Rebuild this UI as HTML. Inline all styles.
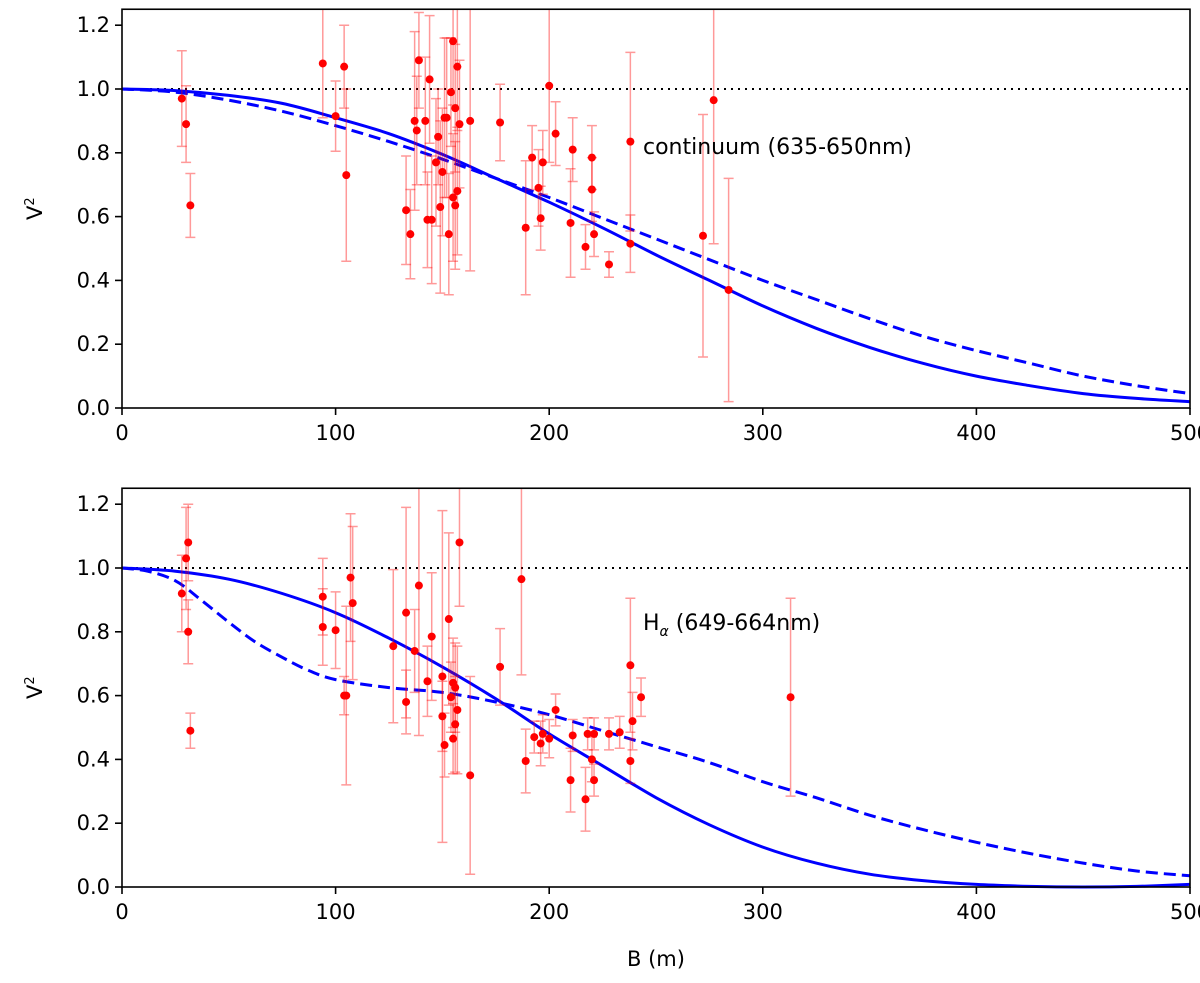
<!DOCTYPE html>
<html><head><meta charset="utf-8"><style>
body{margin:0;background:#fff;}
svg{display:block;font-family:"DejaVu Sans","Liberation Sans",sans-serif;}
</style></head><body>
<svg id="fig" width="1200" height="983" viewBox="0 0 1200 983"></svg>
<script>
const NS="http://www.w3.org/2000/svg";
// Top panel data: baseline (m), V2, error
const topB=[28,30,32,94,100,104,105,133,135,137,138,139,142,143,144,145,147,148,149,150,151,152,153,154,155,155,156,156,157,157,158,163,177,189,192,195,196,197,200,203,210,211,217,220,220,221,228,238,238,272,277,284];
const topV=[0.97,0.89,0.635,1.08,0.915,1.07,0.73,0.62,0.545,0.90,0.87,1.09,0.90,0.59,1.03,0.59,0.77,0.85,0.63,0.74,0.91,0.91,0.545,0.99,1.15,0.66,0.635,0.94,1.07,0.68,0.89,0.90,0.895,0.565,0.785,0.69,0.595,0.77,1.01,0.86,0.58,0.81,0.505,0.685,0.785,0.545,0.45,0.515,0.835,0.54,0.965,0.37];
const topE=[0.15,0.12,0.1,0.17,0.11,0.13,0.27,0.17,0.14,0.28,0.17,0.15,0.2,0.15,0.2,0.2,0.2,0.15,0.27,0.2,0.25,0.25,0.19,0.17,0.2,0.2,0.2,0.2,0.2,0.2,0.2,0.47,0.12,0.21,0.1,0.12,0.1,0.1,0.24,0.1,0.17,0.1,0.07,0.1,0.1,0.07,0.04,0.09,0.28,0.38,0.45,0.35];
// Bottom panel data
const botB=[28,30,31,31,32,94,94,100,104,105,107,108,127,133,133,137,139,143,145,150,150,151,153,154,155,155,156,156,157,158,163,177,187,189,193,196,197,200,203,210,211,217,218,220,221,221,228,233,238,238,239,243,313];
const botV=[0.92,1.03,1.08,0.80,0.49,0.91,0.815,0.805,0.60,0.60,0.97,0.89,0.755,0.86,0.58,0.74,0.945,0.645,0.785,0.535,0.66,0.445,0.84,0.595,0.64,0.465,0.625,0.51,0.555,1.08,0.35,0.69,0.965,0.395,0.47,0.45,0.48,0.465,0.555,0.335,0.475,0.275,0.48,0.40,0.335,0.48,0.48,0.485,0.395,0.695,0.52,0.595,0.595];
const botE=[0.12,0.16,0.12,0.1,0.055,0.12,0.12,0.12,0.06,0.28,0.2,0.24,0.24,0.33,0.1,0.13,0.47,0.11,0.2,0.11,0.52,0.1,0.27,0.11,0.14,0.11,0.14,0.15,0.2,0.2,0.31,0.12,0.3,0.1,0.05,0.07,0.06,0.06,0.05,0.1,0.05,0.1,0.05,0.07,0.05,0.05,0.05,0.05,0.07,0.21,0.09,0.06,0.31];
// Model curves
const curveB=[0,25,50,75,100,125,150,175,200,225,250,275,300,325,350,375,400,425,450,475,500];
const topSolid=[1,0.995,0.98,0.955,0.91,0.86,0.795,0.72,0.645,0.565,0.48,0.40,0.32,0.25,0.19,0.14,0.10,0.07,0.045,0.03,0.02];
const topDash=[1,0.99,0.965,0.93,0.885,0.835,0.78,0.72,0.66,0.595,0.53,0.465,0.40,0.34,0.28,0.225,0.18,0.14,0.10,0.07,0.045];
const botSolid=[1,0.99,0.965,0.92,0.86,0.78,0.69,0.59,0.48,0.38,0.28,0.195,0.125,0.075,0.04,0.02,0.008,0.002,0,0.002,0.008];
const botDashB=[0,12,25,37,50,62,75,87,100,125,150,175,200,225,250,275,300,325,350,375,400,425,450,475,500];
const botDash=[1,0.99,0.96,0.9,0.83,0.77,0.72,0.68,0.65,0.625,0.61,0.58,0.54,0.49,0.44,0.39,0.33,0.28,0.225,0.18,0.14,0.105,0.075,0.05,0.035];
const xTicks=[0,100,200,300,400,500];
const yTicks=[0.0,0.2,0.4,0.6,0.8,1.0,1.2];

const svg=document.getElementById('fig');
function mk(t,a,p){const e=document.createElementNS(NS,t);for(const k in a)e.setAttribute(k,a[k]);(p||svg).appendChild(e);return e;}
const L=122,R=1190;
const xs=b=>L+(b/500)*(R-L);
function smooth(pts){
  let d='M'+pts[0][0].toFixed(1)+','+pts[0][1].toFixed(1);
  for(let i=0;i<pts.length-1;i++){
    const p0=pts[Math.max(0,i-1)],p1=pts[i],p2=pts[i+1],p3=pts[Math.min(pts.length-1,i+2)];
    const c1=[p1[0]+(p2[0]-p0[0])/6,p1[1]+(p2[1]-p0[1])/6],c2=[p2[0]-(p3[0]-p1[0])/6,p2[1]-(p3[1]-p1[1])/6];
    d+=`C${c1[0].toFixed(1)},${c1[1].toFixed(1)} ${c2[0].toFixed(1)},${c2[1].toFixed(1)} ${p2[0].toFixed(1)},${p2[1].toFixed(1)}`;
  }
  return d;
}
function panel(name,y0,B,V,E,solidB,solid,dashB,dash,label,sub){
  const g=mk('g',{});
  
  
  const ys=v=>y0-v*319;
  const top=ys(1.25);
  const dl=mk('line',{x1:L,x2:R,y1:ys(1),y2:ys(1),stroke:'#000','stroke-width':2,'stroke-dasharray':'2,5'},g);
  
  
  const pth=(bb,vv)=>smooth(bb.map((b,i)=>[xs(b),ys(vv[i])]));
  const cs=mk('path',{d:pth(solidB,solid),fill:'none',stroke:'#0000ff','stroke-width':3},g);
  
  
  const cd=mk('path',{d:pth(dashB,dash),fill:'none',stroke:'#0000ff','stroke-width':3,'stroke-dasharray':'12,6'},g);
  
  
  const clip='c'+name;
  const cp=mk('clipPath',{id:clip},g);mk('rect',{x:L,y:top,width:R-L,height:y0-top},cp);
  const dg=mk('g',{'clip-path':'url(#'+clip+')'},g);
  B.forEach((b,i)=>{
    const x=xs(b),y1=ys(V[i]-E[i]),y2=ys(V[i]+E[i]);
    const eb=mk('path',{d:`M${x},${y1}L${x},${y2}M${x-5},${y1}L${x+5},${y1}M${x-5},${y2}L${x+5},${y2}`,stroke:'rgba(255,0,0,0.4)','stroke-width':1.5,fill:'none'},dg);
    
    
    const c=mk('circle',{cx:x,cy:ys(V[i]),r:4,fill:'#ff0000'},dg);
    
    
  });
  const fr=mk('rect',{x:L,y:top,width:R-L,height:y0-top,fill:'none',stroke:'#000','stroke-width':1.6},g);
  
  
  xTicks.forEach(t=>{
    mk('line',{x1:xs(t),x2:xs(t),y1:y0,y2:y0+7,stroke:'#000','stroke-width':1.6},g);
    const tx=mk('text',{x:xs(t),y:y0+32,'text-anchor':'middle','font-size':21},g);tx.textContent=t;
    
    
  });
  yTicks.forEach(t=>{
    mk('line',{x1:L-7,x2:L,y1:ys(t),y2:ys(t),stroke:'#000','stroke-width':1.6},g);
    const tx=mk('text',{x:L-12,y:ys(t)+7,'text-anchor':'end','font-size':21},g);tx.textContent=t.toFixed(1);
    
    
  });
  const yl=mk('text',{x:0,y:0,'font-size':21,transform:`translate(42,${(top+y0)/2}) rotate(-90)`,'text-anchor':'middle'},g);
  yl.innerHTML='V<tspan font-size="13" dy="-8">2</tspan>';
  
  
  const an=mk('text',{x:643,y:sub?630:154,'font-size':22},g);
  an.innerHTML=sub?'H<tspan font-size="14" font-style="italic" dy="6">α</tspan><tspan dy="-6"> (649-664nm)</tspan>':label;
  
  
}
panel('continuum',408,topB,topV,topE,curveB,topSolid,curveB,topDash,'continuum (635-650nm)',false);
panel('halpha',887,botB,botV,botE,curveB,botSolid,botDashB,botDash,'',true);
const xl=mk('text',{x:656,y:966,'text-anchor':'middle','font-size':21});xl.textContent='B (m)';


</script>
</body></html>
